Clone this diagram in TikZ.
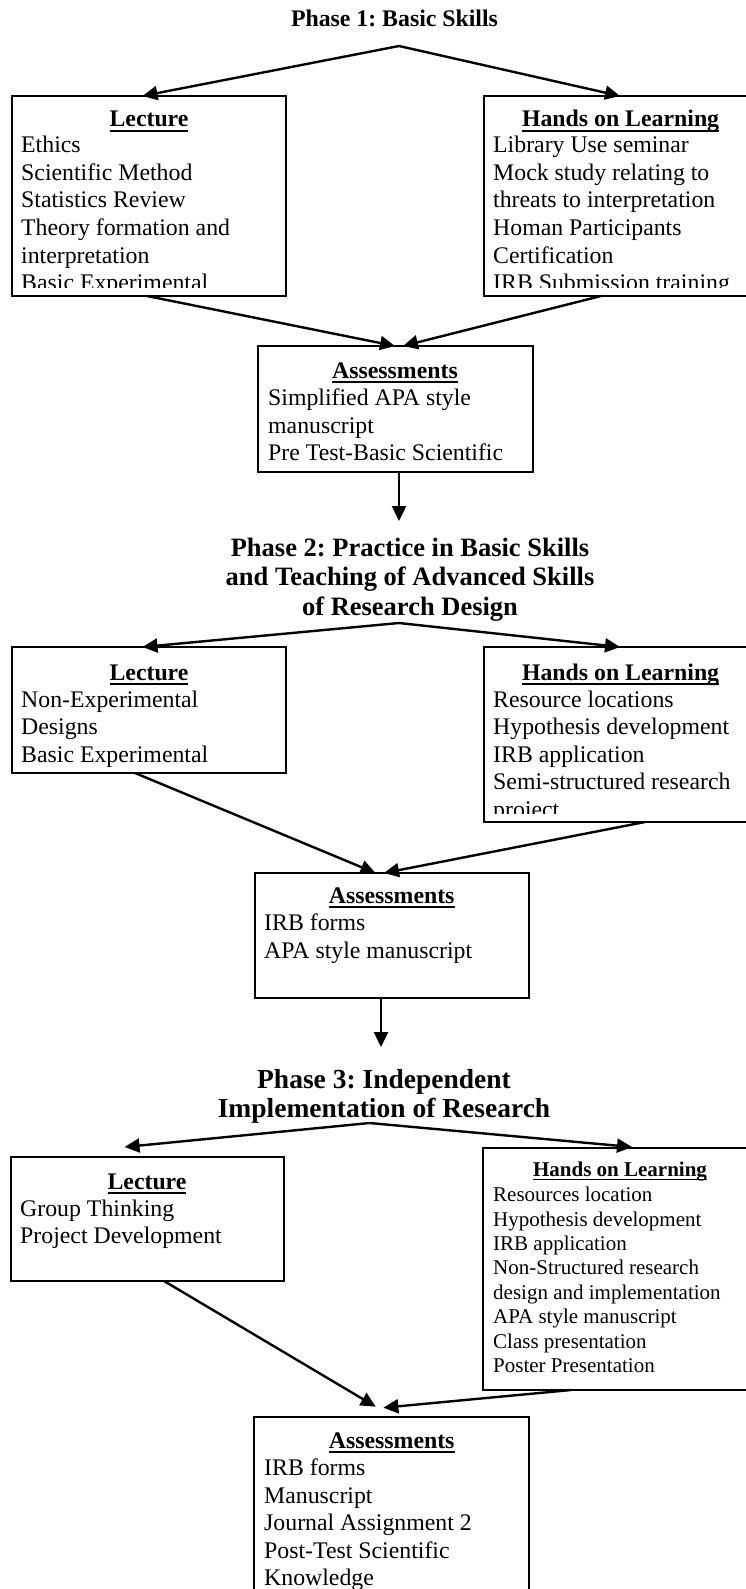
\documentclass[tikz,border=0pt]{standalone}
\usepackage{fontspec}
\setmainfont{Liberation Serif}
\usetikzlibrary{arrows.meta,fit}
\frenchspacing
\newcommand\myul[1]{\setbox0\hbox{#1}\rlap{\rule[-0.21em]{\wd0}{0.08em}}\box0}
\begin{document}
\begin{tikzpicture}[x=1pt,y=-1pt,
  box/.style={draw, line width=2pt, inner sep=0pt, outer sep=0pt},
  obox/.style={inner sep=0pt, outer sep=0pt},
  edge3/.style={line width=2pt, line join=miter},
  arr/.style={line width=2.4pt, -{Triangle[length=15pt,width=14pt]}},
  item/.style={anchor=base west, inner sep=0pt, font=\fontsize{23.8}{27.5}\selectfont},
  sitem/.style={anchor=base west, inner sep=0pt, font=\fontsize{21}{24}\selectfont},
  head/.style={anchor=base, inner sep=0pt, font=\bfseries\fontsize{23.8}{27.5}\selectfont},
  shead/.style={anchor=base, inner sep=0pt, font=\bfseries\fontsize{21}{24}\selectfont},
  ttl/.style={anchor=base, inner sep=0pt, font=\bfseries\fontsize{26.5}{30}\selectfont}
]
\useasboundingbox (0,0) rectangle (745,1589);

% ---------- Phase 1 ----------
\node[anchor=base, inner sep=0pt, font=\bfseries\fontsize{23.8}{27}\selectfont] (t1) at (394.5,26.5) {Phase 1: Basic Skills};
\coordinate (apex1) at (399,46);
\node[box, fit={(12,96) (286,296)}] (lec1) {};
\node[obox, fit={(484,96) (790,296)}] (hands1) {};
\draw[edge3] (hands1.north east) -- (hands1.north west) -- (hands1.south west) -- (hands1.south east);
\node[box, fit={(258,346) (533,472)}] (ass1) {};

\node[head] (lec1h) at (149,127) {\myul{Lecture}};
\node[head] (hands1h) at (620.6,127) {\myul{Hands on Learning}};
\begin{scope}
\clip (12,96) rectangle (760,287);
\foreach \t [count=\i from 0] in {Ethics,Scientific Method,Statistics Review,Theory formation and,interpretation,Basic Experimental}
  \node[item] (la\i) at (21,{153+27.5*\i}) {\t};
\foreach \t [count=\i from 0] in {Library Use seminar,Mock study relating to,threats to interpretation,Homan Participants,Certification,IRB Submission training}
  \node[item] (ha\i) at (493,{153+27.5*\i}) {\t};
\end{scope}
\node[head] (ass1h) at (395,378) {\myul{Assessments}};
\foreach \t [count=\i from 0] in {Simplified APA style,manuscript,Pre Test-Basic Scientific}
  \node[item] (aa\i) at (268,{405.5+27.5*\i}) {\t};

\draw[arr] (apex1) -- ([xshift=-6.5pt]lec1.north);
\draw[arr] (apex1) -- ([xshift=-17pt]hands1.north);
\draw[arr] ([xshift=-2pt]lec1.south) -- ([xshift=-0.5pt]ass1.north);
\draw[arr] ([xshift=-36pt]hands1.south) -- ([xshift=7.5pt]ass1.north);
\coordinate (down1) at (399,521);
\draw[arr] ([xshift=3.5pt]ass1.south) -- (down1);

% ---------- Phase 2 ----------
\node[ttl] (t2a) at (410,556) {Phase 2: Practice in Basic Skills};
\node[ttl] (t2b) at (410,585.5) {and Teaching of Advanced Skills};
\node[ttl] (t2c) at (410,615) {of Research Design};
\coordinate (apex2) at (399,623);
\node[box, fit={(12,647) (286,773)}] (lec2) {};
\node[obox, fit={(484,647) (790,822)}] (hands2) {};
\draw[edge3] (hands2.north east) -- (hands2.north west) -- (hands2.south west) -- (hands2.south east);
\node[box, fit={(254.5,873) (528.5,998)}] (ass2) {};

\node[head] (lec2h) at (149,680) {\myul{Lecture}};
\node[head] (hands2h) at (620.6,680) {\myul{Hands on Learning}};
\foreach \t [count=\i from 0] in {Non-Experimental,Designs,Basic Experimental}
  \node[item] (lb\i) at (21,{707+27.5*\i}) {\t};
\begin{scope}
\clip (484,647) rectangle (760,813);
\foreach \t [count=\i from 0] in {Resource locations,Hypothesis development,IRB application,Semi-structured research,project}
  \node[item] (hb\i) at (493,{707+27.5*\i}) {\t};
\end{scope}
\node[head] (ass2h) at (391.7,903) {\myul{Assessments}};
\foreach \t [count=\i from 0] in {IRB forms,APA style manuscript}
  \node[item] (ab\i) at (264,{930.5+27.5*\i}) {\t};

\draw[arr] (apex2) -- ([xshift=-6.5pt]lec2.north);
\draw[arr] (apex2) -- ([xshift=-17pt]hands2.north);
\draw[arr] ([xshift=-14pt]lec2.south) -- ([xshift=-16pt]ass2.north);
\draw[arr] ([xshift=8pt]hands2.south) -- ([xshift=-7.5pt]ass2.north);
\coordinate (down2) at (381,1047);
\draw[arr] ([xshift=-10.5pt]ass2.south) -- (down2);

% ---------- Phase 3 ----------
\node[ttl, font=\bfseries\fontsize{27.5}{30}\selectfont] (t3a) at (384,1088) {Phase 3: Independent};
\node[ttl, font=\bfseries\fontsize{27.5}{30}\selectfont] (t3b) at (384,1117) {Implementation of Research};
\coordinate (apex3) at (369.6,1123);
\node[box, fit={(10.5,1157) (283.6,1281)}] (lec3) {};
\node[obox, fit={(483,1148) (790,1390)}] (hands3) {};
\draw[edge3] (hands3.north east) -- (hands3.north west) -- (hands3.south west) -- (hands3.south east);
\node[box, fit={(254.4,1416.7) (528.7,1640)}] (ass3) {};

\node[head] (lec3h) at (147,1189) {\myul{Lecture}};
\foreach \t [count=\i from 0] in {Group Thinking,Project Development}
  \node[item] (lc\i) at (20,{1216+27.5*\i}) {\t};
\node[shead] (hands3h) at (620,1176) {\myul{Hands on Learning}};
\foreach \t [count=\i from 0] in {Resources location,Hypothesis development,IRB application,Non-Structured research,design and implementation,APA style manuscript,Class presentation,Poster Presentation}
  \node[sitem] (hc\i) at (493,{1201.7+24.4*\i}) {\t};
\node[head] (ass3h) at (391.7,1448) {\myul{Assessments}};
\foreach \t [count=\i from 0] in {IRB forms,Manuscript,Journal Assignment 2,Post-Test Scientific,Knowledge}
  \node[item] (ac\i) at (264,{1475.5+27.5*\i}) {\t};

\draw[arr] (apex3) -- ([xshift=-22.5pt,yshift=10pt]lec3.north);
\draw[arr] (apex3) -- ([xshift=-4.5pt,yshift=1pt]hands3.north);
\draw[arr] ([xshift=17pt]lec3.south) -- ([xshift=-15.8pt,yshift=10pt]ass3.north);
\draw[arr] ([xshift=-65.5pt]hands3.south) -- ([xshift=-8.2pt,yshift=9pt]ass3.north);
\end{tikzpicture}
\end{document}
